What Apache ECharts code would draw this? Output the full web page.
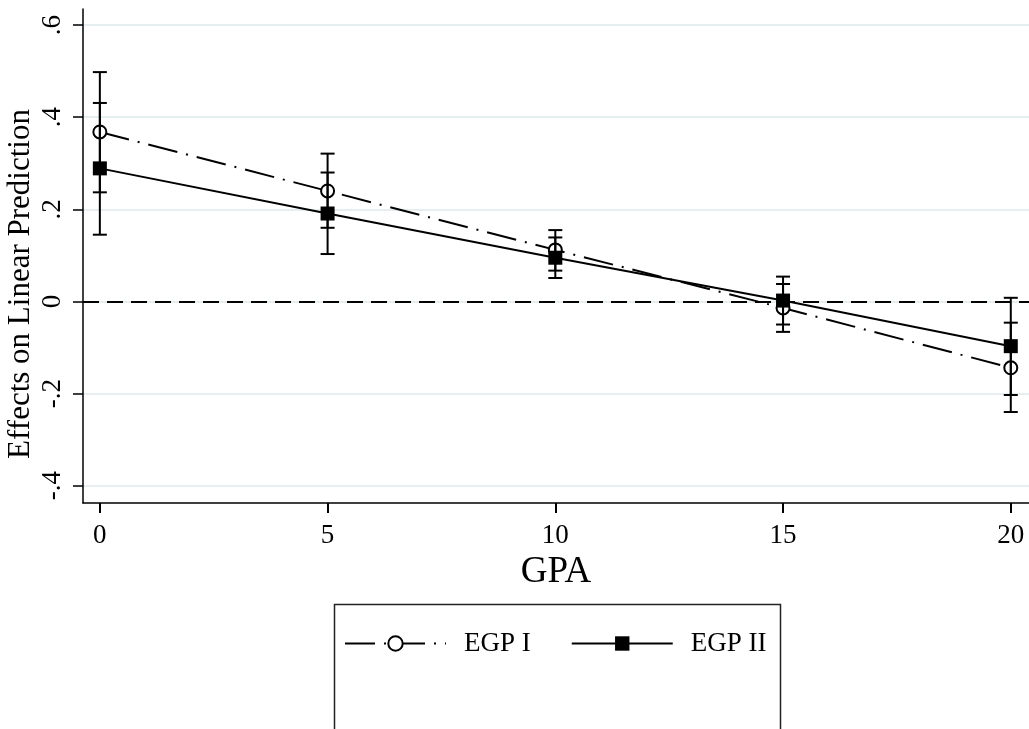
<!DOCTYPE html>
<html>
<head>
<meta charset="utf-8">
<script src="https://cdn.jsdelivr.net/npm/echarts@6/dist/echarts.min.js"></script>
<style>
html,body{margin:0;padding:0;background:#fff;}
#chart{width:1029px;height:729px;}
</style>
</head>
<body>
<div id="chart"></div>
<script>
const xValues = [0, 5, 10, 15, 20];
const egp1 = [0.368, 0.240, 0.112, -0.014, -0.144];
const egp1Lo = [0.237, 0.160, 0.067, -0.066, -0.240];
const egp1Hi = [0.498, 0.321, 0.155, 0.038, -0.046];
const egp2 = [0.289, 0.191, 0.095, 0.002, -0.097];
const egp2Lo = [0.145, 0.103, 0.051, -0.050, -0.203];
const egp2Hi = [0.431, 0.280, 0.139, 0.054, 0.008];
const yTicks = [-0.4, -0.2, 0, 0.2, 0.4, 0.6];
const xTicks = [0, 5, 10, 15, 20];
const seriesNames = ['EGP I', 'EGP II'];
const xTitle = 'GPA';
const yTitle = 'Effects on Linear Prediction';

const FONT = 'Liberation Serif';

function yFmt(v) {
  if (Math.abs(v) < 1e-9) return '0';
  return (v < 0 ? '-' : '') + Math.abs(v).toFixed(1).replace(/^0/, '');
}

function errBar(params, api) {
  const x = api.value(0);
  const p1 = api.coord([x, api.value(1)]);
  const p2 = api.coord([x, api.value(2)]);
  const w = 7;
  const st = { stroke: '#000', lineWidth: 2 };
  return {
    type: 'group',
    children: [
      { type: 'line', shape: { x1: p1[0], y1: p1[1], x2: p2[0], y2: p2[1] }, style: st },
      { type: 'line', shape: { x1: p1[0] - w, y1: p1[1], x2: p1[0] + w, y2: p1[1] }, style: st },
      { type: 'line', shape: { x1: p2[0] - w, y1: p2[1], x2: p2[0] + w, y2: p2[1] }, style: st }
    ]
  };
}

const chart = echarts.init(document.getElementById('chart'), null, { renderer: 'canvas' });
chart.setOption({
  animation: false,
  backgroundColor: '#fff',
  textStyle: { fontFamily: FONT, color: '#000' },
  grid: { left: 83, top: 9, right: 0, bottom: 226, containLabel: false },
  xAxis: {
    type: 'value',
    min: -0.37,
    max: 20.4,
    name: xTitle,
    nameLocation: 'middle',
    nameGap: 46,
    nameTextStyle: { fontSize: 37, fontFamily: FONT, color: '#000' },
    axisLine: { show: true, onZero: false, lineStyle: { color: '#000', width: 1.5 } },
    axisTick: { show: true, length: 10, customValues: xTicks, lineStyle: { color: '#000', width: 2 } },
    axisLabel: { customValues: xTicks, fontSize: 27, fontFamily: FONT, color: '#000', margin: 19 },
    splitLine: { show: false }
  },
  yAxis: {
    type: 'value',
    min: -0.4375,
    max: 0.635,
    axisLine: { show: true, onZero: false, lineStyle: { color: '#000', width: 1.5 } },
    axisTick: { show: true, length: 10, customValues: yTicks, lineStyle: { color: '#000', width: 1.5 } },
    axisLabel: { customValues: yTicks, rotate: 90, fontSize: 27, fontFamily: FONT, color: '#000', margin: 17, formatter: yFmt },
    splitLine: { show: true, lineStyle: { color: '#e6eff0', width: 2 } }
  },
  legend: {
    data: seriesNames,
    left: 339,
    top: 625,
    orient: 'horizontal',
    itemWidth: 101,
    itemHeight: 18,
    itemGap: 40,
    textStyle: { fontSize: 27, fontFamily: FONT, color: '#000', padding: [0, 0, 0, 13] }
  },
  graphic: [
    { type: 'rect', left: 332, top: 602, shape: { width: 446, height: 126 }, style: { fill: 'none', stroke: '#222', lineWidth: 1.5 }, z: 100 },
    { type: 'text', x: 21, y: 284, rotation: Math.PI / 2, style: { text: yTitle, font: '31px "Liberation Serif"', fill: '#000', align: 'center', verticalAlign: 'middle' }, z: 100 }
  ],
  series: [
    {
      name: 'EGP I',
      type: 'line',
      data: xValues.map((x, i) => [x, egp1[i]]),
      symbol: 'emptyCircle',
      symbolSize: 13,
      lineStyle: { color: '#000', width: 2, type: [30, 9, 2, 9] },
      itemStyle: { color: '#000', borderColor: '#000', borderWidth: 2 },
      z: 3,
      markLine: {
        silent: true,
        symbol: 'none',
        label: { show: false },
        lineStyle: { color: '#000', width: 2, type: [16, 8] },
        data: [{ yAxis: 0 }]
      }
    },
    {
      name: 'EGP II',
      type: 'line',
      data: xValues.map((x, i) => [x, egp2[i]]),
      symbol: 'rect',
      symbolSize: 14,
      lineStyle: { color: '#000', width: 2, type: 'solid' },
      itemStyle: { color: '#000' },
      z: 3
    },
    {
      name: 'EGP I CI',
      type: 'custom',
      renderItem: errBar,
      data: xValues.map((x, i) => [x, egp1Lo[i], egp1Hi[i]]),
      z: 4
    },
    {
      name: 'EGP II CI',
      type: 'custom',
      renderItem: errBar,
      data: xValues.map((x, i) => [x, egp2Lo[i], egp2Hi[i]]),
      z: 4
    }
  ]
});
</script>
</body>
</html>
